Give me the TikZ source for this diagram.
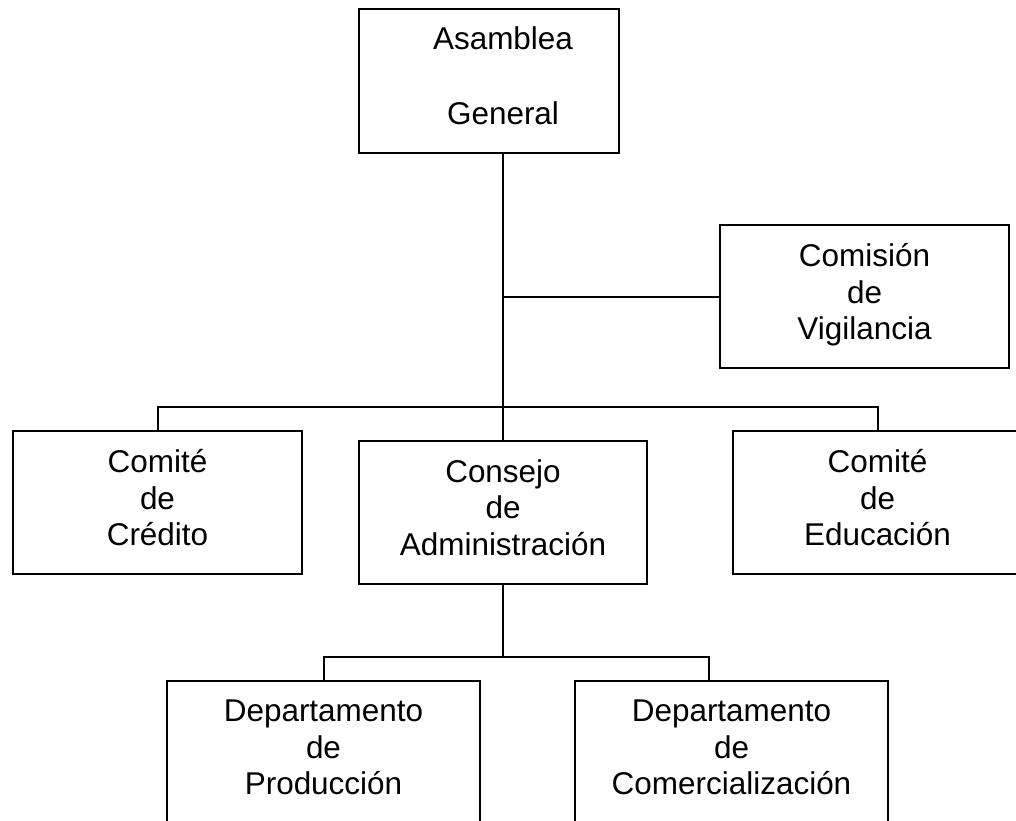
\documentclass[tikz,border=0pt]{standalone}
\usepackage{fontspec}
\setmainfont{Liberation Sans}
\usepackage{tikz}

\begin{document}
\begin{tikzpicture}[x=0.75pt, y=-0.75pt, line width=1.5pt,
    unit/.style={draw, inner sep=0pt, align=center,
      font=\fontsize{23.6pt}{27.4pt}\selectfont,
      execute at begin node={\rule{0pt}{24pt}},
      execute at end node={\rule[-7.5pt]{0pt}{7.5pt}}}]

    \clip (0,0) rectangle (1016,820);

    % asamblea
    \node (asamblea) at (489,81) [unit, minimum width=195pt, minimum height=108pt]
          {\hspace*{21pt}Asamblea\\[28.85pt]\hspace*{21pt}General};

    % vigilancia
    \node (vigilancia) at (864.5,296.5) [unit, minimum width=216.75pt, minimum height=107.25pt]
          {Comisión\\de\\Vigilancia};

    % comites y consejo
    \node (credito) at (157.5,502.5) [unit, minimum width=216.75pt, minimum height=107.25pt]
          {Comité\\de\\Crédito};
    \node (consejo) at (503,512.5) [unit, minimum width=216pt, minimum height=107.25pt]
          {Consejo\\de\\Administración};
    \node (educacion) at (877.5,502.5) [unit, minimum width=216.75pt, minimum height=107.25pt]
          {Comité\\de\\Educación};

    % departamentos
    \node (produccion) at (323.5,752.5) [unit, minimum width=234.75pt, minimum height=107.25pt]
          {Departamento\\de\\Producción};
    \node (comercial) at (731.5,752.5) [unit, minimum width=234.75pt, minimum height=107.25pt]
          {Departamento\\de\\Comercialización};

    \coordinate (bus) at (503,407);
    \coordinate (bus2) at (503,657);
    \coordinate (drop) at (709,681);

    \draw (asamblea.south -| consejo.north) to (consejo.north);
    \draw (vigilancia.west) to (vigilancia.west -| consejo.north);
    \draw (credito.north) |- (bus) -| (educacion.north);
    \draw (consejo.south) to (bus2);
    \draw (produccion.north) |- (bus2) -| (drop);

\end{tikzpicture}
\end{document}
